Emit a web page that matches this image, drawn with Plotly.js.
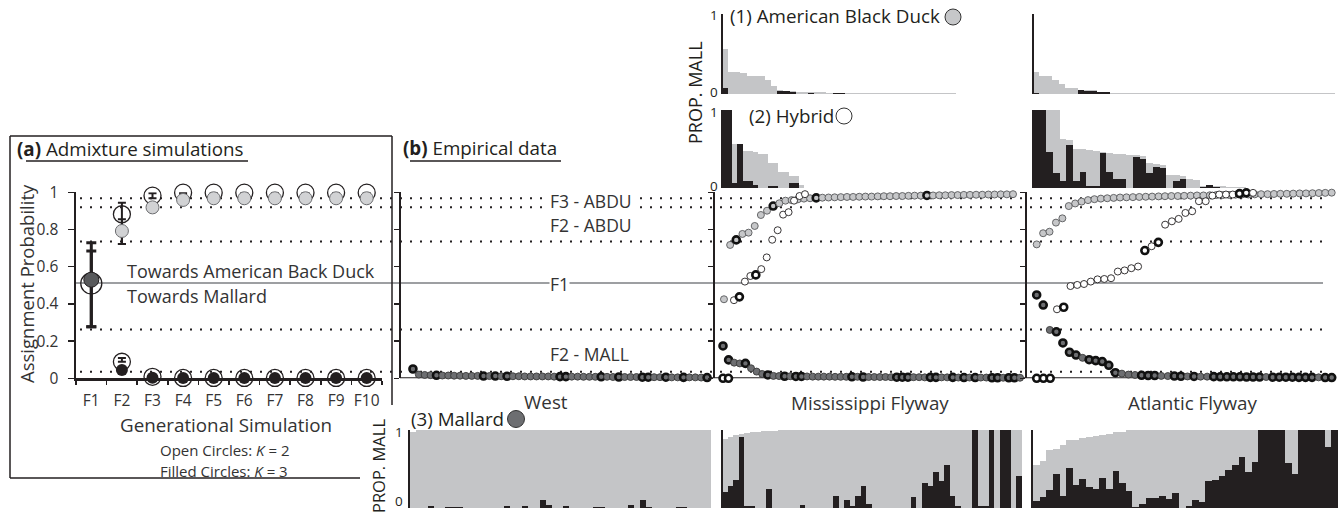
<!DOCTYPE html>
<html><head><meta charset="utf-8">
<script src="https://cdn.plot.ly/plotly-3.0.1.min.js"></script>
<style>html,body{margin:0;padding:0;background:#fff}#chart{width:1344px;height:513px}</style>
</head><body><div id="chart"></div>
<script>
// ================= DATA =================
// (a) admixture simulations
const genLabels = ['F1','F2','F3','F4','F5','F6','F7','F8','F9','F10'];
const simOpenHigh = [0.51,0.882,0.982,0.998,0.998,0.998,0.998,0.998,0.998,0.998];
const simOpenHighErrPlus = [0.219,0.062,0.013,0,0,0,0,0,0,0];
const simOpenHighErrMinus = [0.233,0.16,0.014,0.008,0,0,0,0,0,0];
const simOpenLow = [null,0.089,0.008,0.002,0.002,0.002,0.002,0.002,0.002,0.002];
const simOpenLowErrPlus = [0,0.02,0,0,0,0,0,0,0,0];
const simFilledHigh = [null,0.792,0.919,0.959,0.968,0.968,0.968,0.968,0.968,0.968];
const simFilledHighErrPlus = [0,0.063,0,0,0,0,0,0,0,0];
const simFilledHighErrMinus = [0,0.07,0,0,0,0,0,0,0,0];
const simFilledLow = [null,0.045,0.003,0.002,0.002,0.002,0.002,0.002,0.002,0.002];
const simFilledF1 = 0.53, simFilledF1ErrPlus = 0.154, simFilledF1ErrMinus = 0.253;

// reference thresholds (dotted) and F1 line
const thresholds = [0.968,0.919,0.736,0.263,0.035];
const f1Level = 0.512;

// (b) empirical: West
const westMallard = [0.05,0.02,0.018,0.017,0.016,0.015,0.015,0.014,0.014,0.013,0.013,0.013,0.012,0.012,0.012,0.011,0.011,0.011,0.011,0.01,0.01,0.01,0.01,0.01,0.009,0.009,0.009,0.009,0.009,0.008,0.008,0.008,0.008,0.008,0.007,0.007,0.007,0.007,0.007,0.006,0.006,0.006,0.006,0.006,0.005,0.005,0.005,0.005,0.005,0.004,0.004];
const westMallardThick = [0,4,12,14,16,25,26,32,35,39,40,43,46,50];
const westBarK2 = [0.98,1,1,1,1,1,1,1,1,1,1,1,1,1,1,1,1,1,1,1,1,1,1,1,1,1,1,1,1,1,1,1,1,1,1,1,1,1,1,1,1,1,1,1,1,1,1,1,1,1,1];
const westBarK3 = [0,0,0,0.03,0,0,0.01,0.01,0.01,0,0,0,0,0,0,0,0.02,0,0,0.03,0,0,0.1,0.04,0,0,0.02,0,0,0,0,0.01,0.01,0,0,0,0,0.04,0,0.1,0.01,0,0,0,0,0.01,0.015,0,0,0.005,0.005];

// Mississippi Flyway
const missABDU = [0.425,0.717,0.744,0.776,0.783,0.819,0.878,0.901,0.926,0.941,0.955,0.958,0.962,0.966,0.968,0.97,0.971,0.972,0.973,0.974,0.975,0.975,0.976,0.977,0.977,0.978,0.979,0.979,0.98,0.98,0.981,0.982,0.982,0.983,0.983,0.984,0.984,0.985,0.985,0.986,0.986,0.987,0.987,0.988,0.988,0.989,0.989,0.99];
const missABDUThick = [2,8,15,33];
const missHybrid = [0,0,0.42,0.438,0.52,0.55,0.556,0.587,0.65,0.745,0.796,0.88,0.893,0.955,0.98,0.99];
const missHybridThick = [0,1,3,6];
const missMallard = [0.174,0.099,0.084,0.08,0.08,0.054,0.036,0.023,0.018,0.013,0.012,0.011,0.011,0.01,0.01,0.01,0.009,0.009,0.009,0.009,0.008,0.008,0.008,0.008,0.008,0.007,0.007,0.007,0.007,0.007,0.006,0.006,0.006,0.006,0.006,0.006,0.005,0.005,0.005,0.005,0.005,0.005,0.004,0.004,0.004,0.004,0.004,0.004,0.003,0.003,0.003,0.003,0.003,0.003];
const missMallardThick = [0,1,4,8,11,13,14,23,25,31,32,33,37,38,41,43,45,48,49,51,52];
const missABDUBarK2 = [0.56,0.28,0.27,0.26,0.23,0.22,0.22,0.17,0.1,0.05,0.04,0.04,0.03,0.025,0.02,0.02,0.02,0.018,0.016,0.015,0.014,0.013,0.012,0.012,0.011,0.011,0.01,0.01,0.01,0.009,0.009,0.009,0.008,0.008,0.008,0.007,0.007,0.007,0.006,0.006,0.006,0.005,0.005,0.005,0.004,0.004,0.004,0.003];
const missABDUBarK3 = [0.08,0,0,0,0,0,0,0,0,0.04,0.04,0.03,0,0,0.01,0,0,0,0.015,0.015,0,0,0,0,0,0,0,0,0,0,0,0,0,0,0,0,0,0,0,0,0,0,0,0,0,0,0,0];
const missHybridBarK2 = [1,1,0.57,0.57,0.47,0.47,0.46,0.43,0.43,0.32,0.32,0.21,0.21,0.15,0.15,0.04];
const missHybridBarK3 = [1,1,0.07,0.56,0.09,0.09,0.04,0,0,0.02,0.02,0,0,0.07,0.07,0];
const missMallardBarK2 = [0.89,0.91,0.94,0.95,0.96,0.97,0.98,0.985,0.99,0.99,1,1,1,1,1,1,1,1,1,1,1,1,1,1,1,1,1,1,1,1,1,1,1,1,1,1,1,1,1,1,1,1,1,1,1,1,1,1,1,1,1,1,1,1];
const missMallardBarK3 = [0.21,0.28,0.36,0.91,0.03,0.03,0,0,0.25,0,0,0,0,0,0.04,0,0,0,0,0,0.16,0,0.1,0.03,0.15,0.28,0.05,0,0,0,0,0,0,0,0.14,0,0.32,0.28,0.46,0.34,0.55,0.16,0.02,0,0,1,0.02,0.03,1,0,1,1,0,0.41];

// Atlantic Flyway
const atlABDU = [0.72,0.78,0.788,0.837,0.86,0.926,0.94,0.95,0.958,0.963,0.966,0.968,0.97,0.972,0.973,0.974,0.975,0.976,0.977,0.978,0.979,0.98,0.98,0.981,0.982,0.983,0.983,0.984,0.985,0.985,0.986,0.987,0.988,0.988,0.989,0.99,0.99,0.991,0.992,0.992,0.993,0.994,0.994,0.995,0.996,0.997,0.998];
const atlABDUThick = [];
const atlHybrid = [0,0,0,0.371,0.382,0.496,0.502,0.507,0.52,0.532,0.534,0.538,0.574,0.58,0.592,0.601,0.687,0.71,0.731,0.826,0.844,0.857,0.889,0.898,0.952,0.952,0.982,0.988,0.988,0.988,0.993,0.997,0.997];
const atlHybridThick = [0,1,2,4,16,18,30,31];
const atlMallard = [0.448,0.394,0.26,0.25,0.19,0.14,0.125,0.11,0.1,0.095,0.09,0.07,0.03,0.025,0.02,0.018,0.016,0.015,0.015,0.013,0.012,0.012,0.011,0.01,0.01,0.009,0.009,0.009,0.008,0.008,0.008,0.008,0.007,0.007,0.007,0.007,0.006,0.006,0.006,0.006,0.005,0.005,0.005,0.005,0.004,0.004];
const atlMallardThick = [0,1,3,4,5,6,8,9,10,11,12,16,17,18,21,22,24,27,28,29,30,31,32,33,34,36,37,38,39,40,41,42,44,45];
const atlABDUBarK2 = [0.28,0.22,0.22,0.17,0.13,0.075,0.075,0.05,0.05,0.05,0.03,0.03,0.017,0.017,0.017,0.017,0.017,0.017,0.017,0.017,0.017,0.017,0.017,0.008,0.008,0.008,0.008,0.008,0.008,0.008,0.008,0.008,0.008,0.008,0.008,0.008,0.008,0.008,0.008,0.008,0.008,0.008,0.008,0.008,0.008,0.008,0.008];
const atlABDUBarK3 = [0.01,0,0,0,0,0,0,0.05,0.033,0.033,0.02,0.02,0,0,0,0,0,0,0,0,0,0,0,0,0,0,0,0,0,0,0,0,0,0,0,0,0,0,0,0,0,0,0,0,0,0,0];
const atlHybridBarK2 = [1,1,1,1,0.63,0.62,0.5,0.5,0.49,0.47,0.46,0.45,0.44,0.43,0.42,0.42,0.41,0.32,0.31,0.3,0.17,0.17,0.16,0.11,0.1,0.03,0.03,0.02,0.02,0.01,0.01,0.01,0.005];
const atlHybridBarK3 = [1,1,0.46,0.19,0.09,0.55,0.09,0.21,0.02,0.02,0.45,0.21,0.11,0.11,0,0.4,0.37,0.19,0.27,0.26,0,0.09,0.11,0,0,0.01,0.04,0.01,0,0,0,0,0];
const atlMallardBarK2 = [0.55,0.6,0.75,0.76,0.81,0.87,0.875,0.9,0.91,0.92,0.94,0.95,0.98,0.98,1,1,1,1,1,1,1,1,1,1,1,1,1,1,1,1,1,1,1,1,1,1,1,1,1,1,1,1,1,1,1,1];
const atlMallardBarK3 = [0.09,0.14,0.23,0.43,0.16,0.51,0.30,0.37,0.27,0.24,0.38,0.25,0.48,0.32,0.22,0.01,0.05,0.13,0.13,0.15,0.12,0.19,0,0.02,0.1,0.08,0.35,0.36,0.41,0.49,0.55,0.65,0.46,0.59,1,1,1,1,0.58,0.44,1,1,1,1,0.78,1];

// ================= LAYOUT HELPERS =================
const W = 1344, H = 513;
const ink = '#231f20';
const FONT = 'Open Sans, Noto Sans, sans-serif';
const BIG = 18.8;
const fx = p => p / W, fy = p => 1 - p / H;
const dx = (a, b) => [a / W, b / W];
const dy = (top, bot) => [1 - bot / H, 1 - top / H];
const SCAT = dy(192.3, 378.3), TOP1 = dy(14, 94), TOP2 = dy(110, 188), BOT = dy(430, 508);
const idx = arr => arr.map((_, i) => i);

const C_ABDU = '#c6c7c9', C_MALL = '#6d6e71', C_BAR2 = '#c4c5c7', C_BAR3 = ink;

function hx(a, b, n, yid) {
  return {domain: dx(a, b), range: [-0.5, n - 0.5], visible: false, anchor: yid, fixedrange: true};
}
function sy(pos) {
  return {domain: SCAT, range: [0, 1], anchor: 'free', position: fx(pos), showline: true, linewidth: 2,
    linecolor: ink, ticks: 'outside', ticklen: 5, tickwidth: 1.5, tickcolor: ink,
    tickvals: [0, 0.2, 0.4, 0.6, 0.8, 1], showticklabels: false, showgrid: false, zeroline: false, fixedrange: true};
}
function by(dom, pos) {
  return {domain: dom, range: [0, 1], anchor: 'free', position: fx(pos), showline: true, linewidth: 2,
    linecolor: ink, ticks: '', showticklabels: false,
    showgrid: false, zeroline: false, fixedrange: true};
}
function pts(vals, thick, xa, ya, fill, normLine) {
  return {type: 'scatter', mode: 'markers', x: idx(vals), y: vals, xaxis: xa, yaxis: ya,
    cliponaxis: false, hoverinfo: 'skip',
    marker: {size: 7, color: fill,
      line: {width: vals.map((_, i) => thick.includes(i) ? 2.6 : 0.9),
             color: vals.map((_, i) => thick.includes(i) ? '#111' : normLine)}}};
}
function bars(vals, xa, ya, color) {
  return {type: 'bar', x: idx(vals), y: vals, xaxis: xa, yaxis: ya, width: 1,
    marker: {color: color, line: {width: 0}}, hoverinfo: 'skip'};
}

// ================= TRACES =================
const traces = [];
const rest = a => a.slice(1);
const restX = rest(genLabels);
// (a) open circles (K=2)
traces.push({type: 'scatter', mode: 'markers', x: ['F1'], y: [simOpenHigh[0]], xaxis: 'x', yaxis: 'y', cliponaxis: false,
  marker: {size: 21, color: 'rgba(255,255,255,0)', line: {width: 1.3, color: ink}},
  error_y: {type: 'data', symmetric: false, array: [simOpenHighErrPlus[0]], arrayminus: [simOpenHighErrMinus[0]], color: ink, thickness: 3, width: 5}});
traces.push({type: 'scatter', mode: 'markers', x: restX, y: rest(simOpenHigh), xaxis: 'x', yaxis: 'y', cliponaxis: false,
  marker: {size: 17, color: 'rgba(255,255,255,0)', line: {width: 1.3, color: ink}},
  error_y: {type: 'data', symmetric: false, array: rest(simOpenHighErrPlus), arrayminus: rest(simOpenHighErrMinus), color: ink, thickness: 2, width: 4}});
traces.push({type: 'scatter', mode: 'markers', x: restX, y: rest(simOpenLow), xaxis: 'x', yaxis: 'y', cliponaxis: false,
  marker: {size: 17, color: 'rgba(255,255,255,0)', line: {width: 1.3, color: ink}},
  error_y: {type: 'data', symmetric: false, array: rest(simOpenLowErrPlus), arrayminus: rest(simOpenLowErrPlus).map(() => 0), color: ink, thickness: 2, width: 4}});
// (a) filled circles (K=3)
traces.push({type: 'scatter', mode: 'markers', x: restX, y: rest(simFilledHigh), xaxis: 'x', yaxis: 'y', cliponaxis: false,
  marker: {size: 13, color: '#d1d2d4', line: {width: 1, color: '#6d6e71'}},
  error_y: {type: 'data', symmetric: false, array: rest(simFilledHighErrPlus), arrayminus: rest(simFilledHighErrMinus), color: ink, thickness: 2, width: 4}});
traces.push({type: 'scatter', mode: 'markers', x: restX, y: rest(simFilledLow), xaxis: 'x', yaxis: 'y', cliponaxis: false,
  marker: {size: 12, color: ink, line: {width: 0}}});
traces.push({type: 'scatter', mode: 'markers', x: ['F1'], y: [simFilledF1], xaxis: 'x', yaxis: 'y', cliponaxis: false,
  marker: {size: 15, color: '#58595b', line: {width: 1, color: ink}},
  error_y: {type: 'data', symmetric: false, array: [simFilledF1ErrPlus], arrayminus: [simFilledF1ErrMinus], color: ink, thickness: 3, width: 5}});

// (b) West
traces.push(pts(westMallard, westMallardThick, 'x2', 'y2', C_MALL, '#3a3a3a'));
traces.push(bars(westBarK2, 'x3', 'y3', C_BAR2));
traces.push(bars(westBarK3, 'x3', 'y3', C_BAR3));
// Mississippi
traces.push(pts(missABDU, missABDUThick, 'x4', 'y4', C_ABDU, '#58595b'));
traces.push(pts(missMallard, missMallardThick, 'x6', 'y4', C_MALL, '#3a3a3a'));
traces.push(pts(missHybrid, missHybridThick, 'x5', 'y4', '#ffffff', ink));
traces.push(bars(missABDUBarK2, 'x7', 'y5', C_BAR2));
traces.push(bars(missABDUBarK3, 'x7', 'y5', C_BAR3));
traces.push(bars(missHybridBarK2, 'x8', 'y6', C_BAR2));
traces.push(bars(missHybridBarK3, 'x8', 'y6', C_BAR3));
traces.push(bars(missMallardBarK2, 'x9', 'y7', C_BAR2));
traces.push(bars(missMallardBarK3, 'x9', 'y7', C_BAR3));
// Atlantic
traces.push(pts(atlABDU, atlABDUThick, 'x10', 'y8', C_ABDU, '#58595b'));
traces.push(pts(atlMallard, atlMallardThick, 'x12', 'y8', C_MALL, '#3a3a3a'));
traces.push(pts(atlHybrid, atlHybridThick, 'x11', 'y8', '#ffffff', ink));
traces.push(bars(atlABDUBarK2, 'x13', 'y9', C_BAR2));
traces.push(bars(atlABDUBarK3, 'x13', 'y9', C_BAR3));
traces.push(bars(atlHybridBarK2, 'x14', 'y10', C_BAR2));
traces.push(bars(atlHybridBarK3, 'x14', 'y10', C_BAR3));
traces.push(bars(atlMallardBarK2, 'x15', 'y11', C_BAR2));
traces.push(bars(atlMallardBarK3, 'x15', 'y11', C_BAR3));

// ================= SHAPES & ANNOTATIONS =================
const shapes = [];
const line = (x0, y0, x1, y1, w, c, extra) => Object.assign({type: 'line', xref: 'paper', yref: 'paper',
  x0: fx(x0), y0: fy(y0), x1: fx(x1), y1: fy(y1), line: {width: w, color: c}}, extra || {});
// box around (a)
shapes.push(line(10, 136, 10, 478, 1.5, ink));
shapes.push(line(10, 136, 392, 136, 1.5, ink));
shapes.push(line(392, 136, 392, 405, 1.5, ink));
shapes.push(line(10, 478, 360, 478, 1.5, ink));
// underlines
shapes.push(line(26, 161, 248, 161, 1.3, ink));
shapes.push(line(410, 161, 561, 161, 1.3, ink));
// thresholds (dotted)
thresholds.forEach(t => shapes.push({type: 'line', xref: 'paper', yref: 'y', x0: fx(80), x1: fx(1323), y0: t, y1: t,
  layer: 'below', line: {width: 2, color: ink, dash: '2px,8px'}}));
shapes.push({type: 'line', xref: 'paper', yref: 'y', x0: fx(76), x1: fx(1323), y0: f1Level, y1: f1Level,
  layer: 'below', line: {width: 2, color: '#9d9fa2'}});
// baseline of (b)
shapes.push({type: 'line', xref: 'paper', yref: 'y', x0: fx(400), x1: fx(1332), y0: 0, y1: 0,
  layer: 'below', line: {width: 2, color: ink}});
// legend circles
const circ = (cx, cy, r, fill) => ({type: 'circle', xref: 'paper', yref: 'paper',
  x0: fx(cx - r), x1: fx(cx + r), y0: fy(cy + r), y1: fy(cy - r), fillcolor: fill, line: {width: 1, color: '#333'}});
shapes.push(circ(953, 17, 8, C_ABDU));
shapes.push(circ(844, 116, 8, '#ffffff'));
shapes.push(circ(516, 419, 8.5, C_MALL));

const ann = [];
const A = (text, x, y, o) => ann.push(Object.assign({text: text, xref: 'paper', yref: 'paper', x: fx(x), y: fy(y),
  xanchor: 'center', yanchor: 'middle', showarrow: false, font: {family: FONT, size: BIG, color: ink}}, o || {}));
const soft = {family: FONT, size: BIG, color: '#333'};
const lvl = {family: FONT, size: 17.5, color: '#333'};
const tick = {family: FONT, size: 13.5, color: ink};
A('<b>(a)</b> Admixture simulations', 15, 149, {xanchor: 'left'});
A('<b>(b)</b> Empirical data', 401, 148, {xanchor: 'left'});
A('Assignment Probability', 26, 284, {textangle: -90, font: {family: FONT, size: 18.5, color: '#333'}});
A('Generational Simulation', 226, 425, {font: soft});
A('Open Circles: <i>K</i> = 2', 224, 450, {font: {family: FONT, size: 15, color: '#333'}});
A('Filled Circles: <i>K</i> = 3', 224, 471, {font: {family: FONT, size: 15, color: '#333'}});
A('Towards American Back Duck', 125, 271, {xanchor: 'left', font: {family: FONT, size: 18, color: '#333'}});
A('Towards Mallard', 125, 296, {xanchor: 'left', font: {family: FONT, size: 18, color: '#333'}});
A('F3 - ABDU', 549, 201, {xanchor: 'left', bgcolor: '#fff', borderpad: 0, font: lvl});
A('F2 - ABDU', 549, 225, {xanchor: 'left', bgcolor: '#fff', borderpad: 0, font: lvl});
A('F1', 549, 284, {xanchor: 'left', bgcolor: '#fff', borderpad: 0, font: lvl});
A('F2 - MALL', 549, 354, {xanchor: 'left', bgcolor: '#fff', borderpad: 0, font: lvl});
A('West', 546, 402, {font: soft});
A('Mississippi Flyway', 870, 403, {font: soft});
A('Atlantic Flyway', 1192, 403, {font: soft});
A('(3) Mallard', 409, 419, {xanchor: 'left'});
A('(1) American Black Duck', 728, 16, {xanchor: 'left'});
A('(2) Hybrid', 747, 116, {xanchor: 'left'});
A('PROP. MALL', 378, 466, {textangle: -90, font: {family: FONT, size: 16.5, color: ink}});
A('PROP. MALL', 695, 93, {textangle: -90, font: {family: FONT, size: 18, color: ink}});
// bar-panel axis numbers
A('1', 714, 15, {xanchor: 'center', font: tick});
A('0', 714, 92, {xanchor: 'center', font: tick});
A('1', 714, 112, {xanchor: 'center', font: tick});
A('0', 714, 186, {xanchor: 'center', font: tick});
A('1', 399, 432, {xanchor: 'center', font: tick});
A('0', 399, 512, {xanchor: 'center', yanchor: 'bottom', font: tick});

// ================= LAYOUT =================
const layout = {
  width: W, height: H, margin: {l: 0, r: 0, t: 0, b: 0},
  paper_bgcolor: '#fff', plot_bgcolor: 'rgba(0,0,0,0)',
  showlegend: false, hovermode: false, barmode: 'overlay', bargap: 0,
  font: {family: FONT, color: ink},
  xaxis: {domain: dx(76, 382), type: 'category', categoryorder: 'array', categoryarray: genLabels, range: [-0.5, 9.5],
    tickson: 'boundaries', ticks: 'outside', ticklen: 4, tickwidth: 1.5, tickcolor: ink, showline: true, linewidth: 2.5,
    linecolor: ink, showgrid: false, zeroline: false, anchor: 'y', tickangle: 0,
    tickfont: {size: 15.5, color: '#333', family: FONT}, ticklabelstandoff: 7, fixedrange: true},
  yaxis: {domain: SCAT, range: [0, 1], anchor: 'x', tickvals: [0, 0.2, 0.4, 0.6, 0.8, 1],
    ticktext: ['0', '0.2', '0.4', '0.6', '0.8', '1'], ticks: 'outside', ticklen: 6, tickwidth: 1.5, tickcolor: ink,
    showline: true, linewidth: 2.5, linecolor: ink, showgrid: false, zeroline: false,
    tickfont: {size: 15.5, color: '#333', family: FONT}, ticklabelstandoff: 6, fixedrange: true},
  // West
  xaxis2: hx(410, 710, westMallard.length, 'y2'), yaxis2: sy(400),
  xaxis3: hx(410, 711, westBarK2.length, 'y3'), yaxis3: by(BOT, 409),
  // Mississippi
  xaxis4: hx(720.9, 1016.1, missABDU.length, 'y4'),
  xaxis5: hx(720.3, 807.7, missHybrid.length, 'y4'),
  xaxis6: hx(720.2, 1022.8, missMallard.length, 'y4'),
  yaxis4: sy(714),
  xaxis7: hx(722, 1017, missABDUBarK2.length, 'y5'), yaxis5: by(TOP1, 722),
  xaxis8: hx(722, 804, missHybridBarK2.length, 'y6'), yaxis6: by(TOP2, 722),
  xaxis9: hx(722, 1022, missMallardBarK2.length, 'y7'), yaxis7: by(BOT, 722),
  // Atlantic
  xaxis10: hx(1033.5, 1334.9, atlABDU.length, 'y8'),
  xaxis11: hx(1033.3, 1256.4, atlHybrid.length, 'y8'),
  xaxis12: hx(1033.4, 1335, atlMallard.length, 'y8'),
  yaxis8: sy(1026),
  xaxis13: hx(1033, 1335, atlABDUBarK2.length, 'y9'), yaxis9: by(TOP1, 1033),
  xaxis14: hx(1033, 1253, atlHybridBarK2.length, 'y10'), yaxis10: by(TOP2, 1033),
  xaxis15: hx(1033, 1338, atlMallardBarK2.length, 'y11'), yaxis11: by(BOT, 1032),
  shapes: shapes, annotations: ann
};

Plotly.newPlot('chart', traces, layout, {displayModeBar: false, staticPlot: true});
</script>
</body></html>
